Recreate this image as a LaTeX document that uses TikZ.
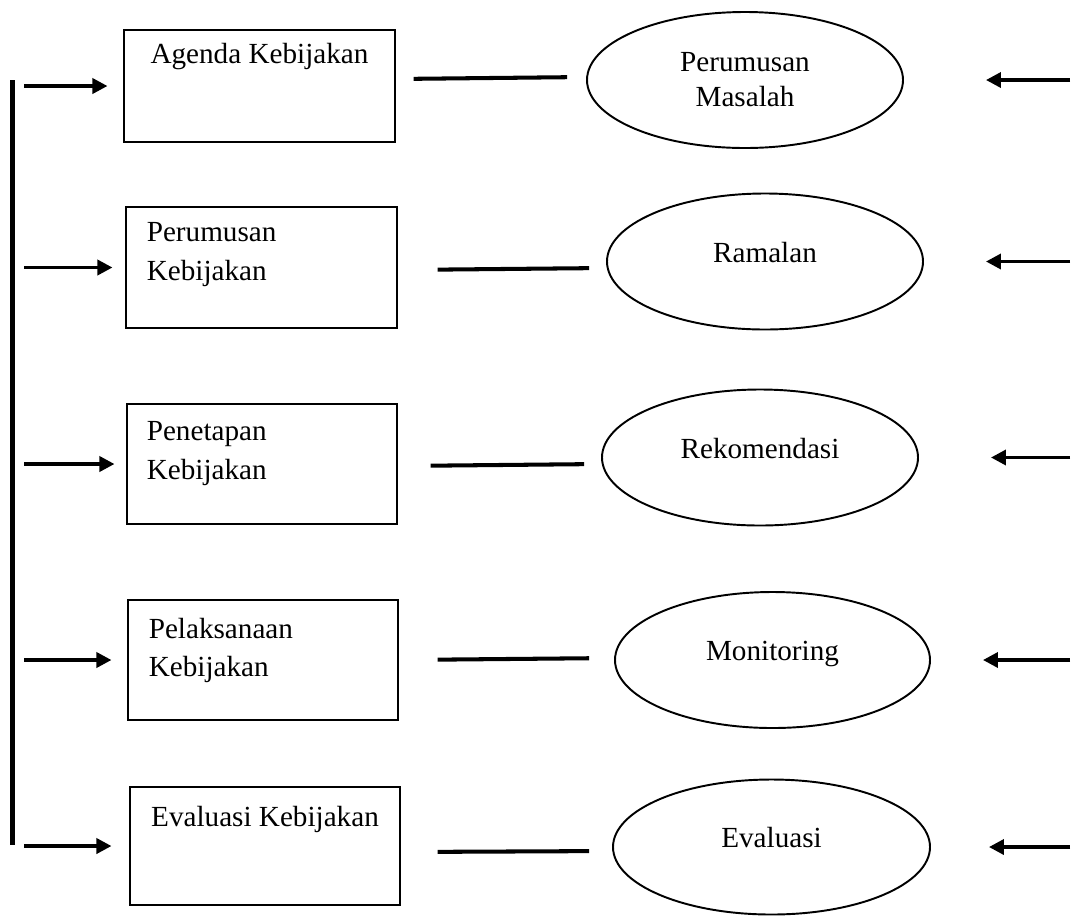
\documentclass[tikz,border=0pt]{standalone}
\usepackage{fontspec}
\setmainfont{Liberation Serif}
\usepackage{tikz}
\usetikzlibrary{arrows.meta,positioning,shapes.geometric}

\tikzset{
    kotak/.style={draw, line width=0.6pt, minimum width=5.42cm, minimum height=2.4cm, inner sep=0pt},
    elips/.style={draw, ellipse, line width=1.1pt, minimum width=6.32cm, minimum height=2.72cm,
        align=center, font=\fontsize{16.6}{20}\selectfont},
    satu/.style={text height=0.4cm, text depth=0.38cm},
    teks/.style={inner sep=0pt, font=\fontsize{16.6}{22}\selectfont},
    panah/.style={line width=2pt, -{Triangle[length=0.3cm, width=0.3cm]}},
    garis/.style={line width=2.3pt}
}

\begin{document}
\begin{tikzpicture}
    \useasboundingbox (0,0) rectangle (21.6,-18.32);

    % Garis kiri dan titik bantu
    \coordinate (atas) at (0.25,-1.6);
    \coordinate (bawah) at (0.25,-16.9);
    \coordinate (kiri) at (0.48,0);
    \coordinate (kanan) at (21.4,0);
    \draw[garis] (atas) -- (bawah);

    % Agenda Kebijakan - Perumusan Masalah
    \node[kotak, minimum height=2.24cm] (k1) at (5.19,-1.72) {};
    \node[teks, below=0.26cm of k1.north] {Agenda Kebijakan};
    \node[elips] (e1) at (14.90,-1.60) {Perumusan\\Masalah};
    \draw[panah, shorten >=0.32cm] (k1.west -| kiri) -- (k1.west);
    \draw[garis, shorten <=0.36cm, shorten >=0.38cm] ([yshift=0.14cm]k1.east) -- ([yshift=0.06cm]e1.west);
    \draw[panah, shorten >=1.64cm] (e1.east -| kanan) -- (e1.east);

    % Perumusan Kebijakan - Ramalan
    \node[kotak, minimum height=2.42cm] (k2) at (5.23,-5.35) {};
    \node[teks, align=left, below right=0.32cm and 0.42cm of k2.north west] {Perumusan\\Kebijakan};
    \node[elips, satu] (e2) at (15.30,-5.23) {Ramalan};
    \draw[panah, shorten >=0.26cm] (k2.west -| kiri) -- (k2.west);
    \draw[garis, shorten <=0.8cm, shorten >=0.34cm] ([yshift=-0.05cm]k2.east) -- ([yshift=-0.13cm]e2.west);
    \draw[panah, shorten >=1.24cm] (e2.east -| kanan) -- (e2.east);

    % Penetapan Kebijakan - Rekomendasi
    \node[kotak, minimum width=5.40cm] (k3) at (5.24,-9.28) {};
    \node[teks, align=left, below right=0.36cm and 0.40cm of k3.north west] {Penetapan\\Kebijakan};
    \node[elips, satu] (e3) at (15.20,-9.15) {Rekomendasi};
    \draw[panah, shorten >=0.24cm] (k3.west -| kiri) -- (k3.west);
    \draw[garis, shorten <=0.66cm, shorten >=0.34cm] ([yshift=-0.04cm]k3.east) -- ([yshift=-0.13cm]e3.west);
    \draw[panah, shorten >=1.44cm] (e3.east -| kanan) -- (e3.east);

    % Pelaksanaan Kebijakan - Monitoring
    \node[kotak, minimum width=5.40cm] (k4) at (5.26,-13.20) {};
    \node[teks, align=left, below right=0.36cm and 0.42cm of k4.north west] {Pelaksanaan\\Kebijakan};
    \node[elips, satu, minimum width=6.30cm] (e4) at (15.45,-13.20) {Monitoring};
    \draw[panah, shorten >=0.32cm] (k4.west -| kiri) -- (k4.west);
    \draw[garis, shorten <=0.78cm, shorten >=0.5cm] (k4.east) -- ([yshift=0.04cm]e4.west);
    \draw[panah, shorten >=1.04cm] (e4.east -| kanan) -- (e4.east);

    % Evaluasi Kebijakan - Evaluasi
    \node[kotak, minimum width=5.40cm, minimum height=2.36cm] (k5) at (5.30,-16.92) {};
    \node[teks, below=0.38cm of k5.north] {Evaluasi Kebijakan};
    \node[elips, satu, minimum width=6.34cm, minimum height=2.70cm] (e5) at (15.43,-16.94) {Evaluasi};
    \draw[panah, shorten >=0.36cm] (k5.west -| kiri) -- (k5.west);
    \draw[garis, shorten <=0.74cm, shorten >=0.46cm] ([yshift=-0.12cm]k5.east) -- ([yshift=-0.08cm]e5.west);
    \draw[panah, shorten >=1.16cm] (e5.east -| kanan) -- (e5.east);

\end{tikzpicture}
\end{document}
